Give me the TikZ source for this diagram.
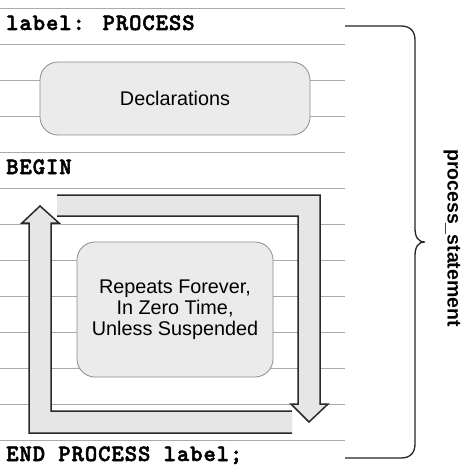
\documentclass[tikz,border=0pt]{standalone}
\usepackage{fontspec}
\setmainfont{Liberation Sans}
\newfontfamily\codefont[LetterSpace=4,FakeBold=2.2]{lmmonolt10-bold.otf}
\definecolor{rulegray}{HTML}{ABABAB}
\definecolor{boxedge}{HTML}{8C8C8C}
\definecolor{boxfill}{HTML}{EBEBEB}
\definecolor{loopgray}{HTML}{E6E6E6}
\definecolor{loopdark}{HTML}{2A2A2A}
\begin{document}
\begin{tikzpicture}[x=1pt,y=-1pt,
  rule/.style={draw=rulegray,line width=0.9pt},
  rbox/.style={draw=boxedge,fill=boxfill,rounded corners=18pt,line width=0.8pt,
    font=\fontsize{19.8}{21}\selectfont,align=center,inner sep=0pt},
  code/.style={font=\codefont\fontsize{23.5}{25}\selectfont,anchor=base west,inner sep=0pt},
  loopfill/.style={fill=loopgray,draw=none},
  loopedge/.style={draw=loopdark,line width=1.5pt,line join=miter},
  bracestyle/.style={draw=black!85,line width=1.3pt}]
\useasboundingbox (0,0) rectangle (462,473);
\fill[white] (0,0) rectangle (462,473);
\foreach \y in {8,44,...,440} \draw[rule] (0,\y) -- (345,\y);
% boxes
\node[rbox,minimum width=270pt,minimum height=73pt] (decl) at (175,98.5) {Declarations};
\node[rbox,minimum width=196pt,minimum height=135pt] (rep) at (175,309.5)
  {Repeats Forever,\\In Zero Time,\\Unless Suspended};
% code text
\node[code] (lbl) at (6,30) {label: PROCESS};
\node[code] (beg) at (6,174) {BEGIN};
\node[code] (endp) at (6,461) {END PROCESS label;};
% loop arrow going right and down
\fill[loopfill] (57,195) -- (320,195) -- (320,404) -- (328,404) -- (309,422) -- (291,404) -- (298,404) -- (298,216) -- (57,216) -- cycle;
\draw[loopedge] (57,195) -- (320,195) -- (320,404) -- (328,404) -- (309,422) -- (291,404) -- (298,404) -- (298,216) -- (57,216);
% loop arrow going left and up
\fill[loopfill] (292,433) -- (29,433) -- (29,223) -- (22,223) -- (40,206) -- (59,223) -- (51,223) -- (51,411) -- (292,411) -- cycle;
\draw[loopedge] (292,433) -- (29,433) -- (29,223) -- (22,223) -- (40,206) -- (59,223) -- (51,223) -- (51,411) -- (292,411);
% brace
\coordinate (btop) at (345,26);
\coordinate (bbot) at (345,458);
\coordinate (btip) at (425,242);
\draw[bracestyle] (btop) -- (401,26) .. controls (410,26) and (415,31) .. (415,40) -- (415,228)
  .. controls (415,237) and (418,242) .. (btip)
  .. controls (418,242) and (415,247) .. (415,256) -- (415,444)
  .. controls (415,453) and (410,458) .. (401,458) -- (bbot);
\node[rotate=-90,font=\bfseries\fontsize{19.5}{21}\selectfont,inner sep=0pt] (ps) at (452,238) {process\_statement};
\end{tikzpicture}
\end{document}
